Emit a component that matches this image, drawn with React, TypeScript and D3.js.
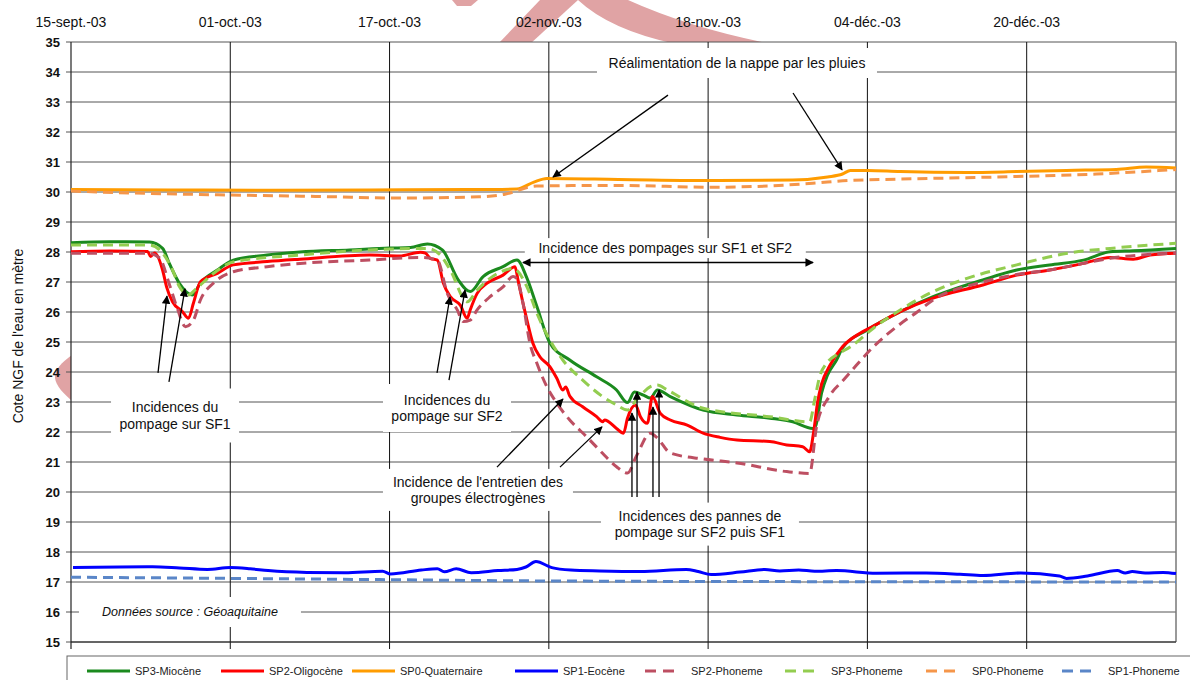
import React from "react";
import * as d3 from "d3";

// ---- frame ----
const W = 1190;
const H = 680;
const M = { left: 71, right: 1176, top: 42, bottom: 642 };
const FONT = "'Liberation Sans', Arial, Helvetica, sans-serif";

const DAY_MS = 864e5;
const START_MS = Date.UTC(2003, 8, 15);
const END_MS = Date.UTC(2004, 0, 4);

// ---- axes ----
const dateTickDays = [0, 16, 32, 48, 64, 80, 96];
const dateTickLabels = ["15-sept.-03", "01-oct.-03", "17-oct.-03", "02-nov.-03", "18-nov.-03", "04-déc.-03", "20-déc.-03"];
const levelTicks = d3.range(15, 36);

// ---- series: [days since 15 Sept 2003, water level (m NGF)] ----
type Pt = [number, number];

const sp3Miocene: Pt[] = [
  [0, 28.31], [3.9, 28.34], [7.9, 28.33], [9.2, 28.12], [9.9, 27.6], [10.9, 26.95], [12.2, 26.57],
  [13.0, 26.97], [14.7, 27.4], [16.3, 27.73], [19.7, 27.9], [23.0, 28.0], [28.0, 28.07], [32.0, 28.13],
  [34.1, 28.15], [35.8, 28.27], [37.3, 28.07], [38.9, 27.07], [40.1, 26.68], [41.4, 27.18], [43.4, 27.51],
  [44.8, 27.73], [45.8, 27.13], [46.8, 26.18], [48.1, 24.97], [50.1, 24.4], [52.8, 23.84], [54.8, 23.4],
  [55.9, 22.98], [56.6, 23.33], [57.5, 23.23], [58.2, 23.13], [58.9, 23.4], [60.2, 23.18], [63.5, 22.73],
  [66.9, 22.57], [70.2, 22.46], [72.5, 22.34], [74.5, 22.12], [74.8, 22.2], [75.4, 23.3], [76.0, 23.9],
  [76.9, 24.4], [77.5, 24.8], [80.0, 25.4], [83.3, 26.01], [86.6, 26.51], [91.6, 27.07], [95.0, 27.4],
  [98.3, 27.57], [101.7, 27.73], [104.4, 28.01], [106.7, 28.04], [111, 28.12],
];

const sp2Oligocene: Pt[] = [
  [0, 28.01], [3.9, 28.03], [7.7, 28.02], [8.0, 27.85], [8.4, 27.97], [9.2, 27.4], [9.6, 26.84],
  [10.2, 26.34], [11.2, 26.01], [11.8, 25.79], [12.3, 26.3], [13.0, 27.01], [14.7, 27.29], [16.3, 27.57],
  [19.7, 27.68], [23.0, 27.76], [30.0, 27.9], [33.0, 27.87], [35.1, 27.99], [35.6, 27.96], [36.1, 27.79],
  [36.8, 27.73], [37.4, 26.97], [38.1, 26.51], [39.1, 26.23], [39.8, 25.79], [40.1, 26.07], [40.8, 26.62],
  [41.8, 26.96], [43.4, 27.23], [44.6, 27.51], [44.9, 27.07], [45.4, 26.3], [45.8, 25.73], [46.4, 24.96],
  [47.1, 24.51], [48.1, 24.18], [48.8, 23.79], [49.4, 23.4], [49.7, 23.5], [50.1, 23.2], [51.4, 22.84],
  [52.8, 22.51], [53.4, 22.34], [53.6, 22.4], [54.8, 22.12], [55.5, 21.96], [55.9, 22.46], [56.7, 22.9],
  [57.2, 22.51], [57.9, 22.29], [58.4, 23.18], [59.2, 22.62], [60.2, 22.4], [61.9, 22.23], [63.5, 21.96],
  [65.2, 21.82], [66.9, 21.73], [70.2, 21.68], [71.9, 21.57], [73.5, 21.51], [74.2, 21.34], [74.6, 22.0],
  [75.0, 23.0], [75.4, 23.6], [76.2, 24.2], [77.5, 24.84], [79.3, 25.3], [80.6, 25.53], [83.3, 26.01],
  [86.6, 26.46], [91.6, 26.9], [95.0, 27.23], [98.3, 27.4], [101.7, 27.62], [104.4, 27.82], [106.7, 27.76],
  [108.4, 27.9], [111, 27.96],
];

const sp0Quaternaire: Pt[] = [
  [0, 30.08], [10, 30.07], [20, 30.06], [30, 30.07], [40, 30.08], [44.8, 30.1], [46.5, 30.33], [47.8, 30.45],
  [55, 30.42], [65, 30.38], [72.5, 30.4], [76, 30.5], [77.5, 30.6], [78.3, 30.72], [80, 30.72], [83.3, 30.68],
  [90, 30.65], [95, 30.68], [100, 30.72], [105, 30.75], [108, 30.83], [111, 30.8],
];

const sp1Eocene: Pt[] = [
  [0.2, 17.48], [4.9, 17.5], [8.2, 17.51], [10.9, 17.47], [13.7, 17.42], [16.0, 17.48], [18.0, 17.44],
  [19.8, 17.38], [23.7, 17.32], [27.5, 17.31], [31.3, 17.36], [32.1, 17.27], [35.2, 17.4], [36.8, 17.44],
  [37.5, 17.34], [38.7, 17.44], [40.2, 17.31], [42.9, 17.38], [44.8, 17.42], [45.7, 17.5], [46.7, 17.68],
  [48.3, 17.48], [50.2, 17.4], [53.1, 17.37], [57.2, 17.35], [61.8, 17.42], [63.0, 17.35], [64.3, 17.25],
  [67.2, 17.33], [69.7, 17.42], [71.2, 17.37], [73.1, 17.4], [74.7, 17.36], [76.9, 17.38], [80.9, 17.29],
  [85.9, 17.3], [89.3, 17.26], [91.6, 17.22], [95.4, 17.3], [99.3, 17.2], [100.0, 17.12], [102.1, 17.2],
  [105.1, 17.38], [105.9, 17.3], [106.6, 17.35], [107.9, 17.3], [109.7, 17.32], [111, 17.28],
];

const sp2Phoneme: Pt[] = [
  [0, 27.96], [7.7, 27.96], [8.9, 27.8], [9.9, 26.9], [10.7, 26.1], [11.5, 25.51], [12.3, 25.73],
  [13.0, 26.4], [14.3, 26.96], [16.3, 27.34], [19.7, 27.51], [23.0, 27.62], [30.0, 27.73], [35.1, 27.82],
  [36.8, 27.73], [37.8, 26.62], [38.8, 26.07], [39.4, 25.68], [40.1, 25.73], [40.8, 26.07], [42.1, 26.51],
  [43.4, 26.84], [44.4, 27.18], [44.8, 27.1], [45.4, 26.3], [46.1, 24.96], [46.8, 24.29], [47.8, 23.51],
  [48.8, 22.96], [50.1, 22.4], [51.8, 21.84], [53.4, 21.29], [54.8, 20.84], [55.9, 20.63], [56.8, 21.2],
  [58.2, 21.96], [58.9, 21.8], [60.2, 21.3], [63.5, 21.1], [66.9, 20.97], [71.9, 20.68], [74.2, 20.62],
  [74.9, 22.2], [76.2, 23.2], [77.5, 23.7], [78.3, 24.0], [80.6, 24.84], [83.3, 25.6], [85.0, 26.0],
  [86.6, 26.4], [91.6, 27.0], [95.0, 27.25], [98.3, 27.4], [101.7, 27.62], [104.4, 27.79], [111, 27.96],
];

const sp3Phoneme: Pt[] = [
  [0, 28.23], [7.9, 28.23], [8.9, 28.07], [10.2, 27.4], [10.9, 26.84], [11.8, 26.57], [12.5, 26.75],
  [14.0, 27.2], [16.3, 27.67], [23.0, 27.9], [30.0, 28.07], [35.8, 28.12], [37.1, 27.9], [38.1, 27.4],
  [39.8, 26.34], [40.8, 26.73], [43.1, 27.33], [44.4, 27.45], [45.8, 26.84], [46.8, 25.96], [48.1, 25.07],
  [49.4, 24.4], [51.4, 23.73], [53.4, 23.18], [54.8, 22.9], [55.9, 22.73], [56.8, 23.07], [58.2, 23.51],
  [58.9, 23.57], [59.9, 23.4], [63.5, 22.79], [70.2, 22.51], [74.2, 22.34], [74.7, 23.07], [75.2, 23.84],
  [75.9, 24.29], [76.9, 24.57], [78.3, 24.84], [80.6, 25.46], [83.3, 26.07], [86.6, 26.68], [90.0, 27.12],
  [95.0, 27.57], [100.1, 27.96], [104.4, 28.12], [111, 28.29],
];

const sp0Phoneme: Pt[] = [
  [0, 30.03], [8, 29.95], [16, 29.9], [25, 29.85], [33, 29.8], [41, 29.84], [43.5, 29.92], [46.8, 30.2],
  [55, 30.22], [64.5, 30.16], [70, 30.2], [74.5, 30.29], [78, 30.38], [83.3, 30.43], [93, 30.5],
  [103, 30.6], [111, 30.75],
];

const sp1Phoneme: Pt[] = [
  [0, 17.16], [16, 17.12], [31, 17.08], [45, 17.04], [60, 17.02], [80, 17.01], [111, 17.0],
];

type Series = { name: string; data: Pt[]; color: string; dashed: boolean };

const series: Series[] = [
  { name: "SP3-Miocène", data: sp3Miocene, color: "#1b8a1e", dashed: false },
  { name: "SP2-Oligocène", data: sp2Oligocene, color: "#ff0000", dashed: false },
  { name: "SP0-Quaternaire", data: sp0Quaternaire, color: "#ff9c00", dashed: false },
  { name: "SP1-Eocène", data: sp1Eocene, color: "#0000ff", dashed: false },
  { name: "SP2-Phoneme", data: sp2Phoneme, color: "#bd4f62", dashed: true },
  { name: "SP3-Phoneme", data: sp3Phoneme, color: "#93cd50", dashed: true },
  { name: "SP0-Phoneme", data: sp0Phoneme, color: "#f5964a", dashed: true },
  { name: "SP1-Phoneme", data: sp1Phoneme, color: "#5a86c8", dashed: true },
];

// legend layout: sample start x for each entry
const legendX = [87, 221, 352, 515, 645, 785, 926, 1062];

// ---- annotations, anchored in data space ([day, level]) ----
type Note = { at: Pt; w: number; h: number; lines: string[]; italic?: boolean };
const notes: Note[] = [
  { at: [66.9, 34.3], w: 280, h: 30, lines: ["Réalimentation  de la nappe par les pluies"] },
  { at: [59.7, 28.13], w: 281, h: 20, lines: ["Incidence des pompages sur SF1 et SF2"] },
  { at: [10.45, 22.55], w: 128, h: 54, lines: ["Incidences du", "pompage sur SF1"] },
  { at: [37.77, 22.8], w: 128, h: 48, lines: ["Incidences du", "pompage sur SF2"] },
  { at: [40.88, 20.07], w: 190, h: 42, lines: ["Incidence de l'entretien des", "groupes électrogènes"] },
  { at: [63.18, 18.93], w: 198, h: 43, lines: ["Incidences des pannes de", "pompage sur SF2 puis SF1"] },
  { at: [11.95, 16.0], w: 222, h: 30, lines: ["Données source : Géoaquitaine"], italic: true },
];

type Arrow = { from: Pt; to: Pt; both?: boolean };
const arrows: Arrow[] = [
  { from: [59.97, 33.23], to: [48.42, 30.5] },
  { from: [72.53, 33.3], to: [77.45, 30.74] },
  { from: [45.4, 27.65], to: [74.54, 27.65], both: true },
  { from: [8.74, 23.97], to: [9.64, 26.53] },
  { from: [9.84, 23.67], to: [11.45, 26.77] },
  { from: [36.77, 23.97], to: [38.07, 26.5] },
  { from: [37.97, 23.73], to: [39.58, 26.73] },
  { from: [42.79, 20.83], to: [49.42, 23.1] },
  { from: [49.12, 20.83], to: [53.34, 22.17] },
  { from: [56.35, 19.83], to: [56.35, 22.63] },
  { from: [56.86, 19.83], to: [56.86, 23.33] },
  { from: [58.46, 19.83], to: [58.46, 22.83] },
  { from: [59.07, 19.83], to: [59.07, 23.4] },
];

const dayToDate = (d: number) => new Date(START_MS + d * DAY_MS);

export default function App() {
  const x = d3.scaleUtc().domain([new Date(START_MS), new Date(END_MS)]).range([M.left, M.right]);
  const y = d3.scaleLinear().domain([15, 35]).range([M.bottom, M.top]);
  const px = (p: Pt): [number, number] => [x(dayToDate(p[0])), y(p[1])];
  const line = d3
    .line<Pt>()
    .x((p) => x(dayToDate(p[0])))
    .y((p) => y(p[1]))
    .curve(d3.curveMonotoneX);

  const gridDays = dateTickDays.slice(1);
  const legendY = 671;

  return (
    <svg
      width={W}
      height={H}
      viewBox={`0 0 ${W} ${H}`}
      style={{ position: "absolute", left: 0, top: 0, display: "block" }}
      fontFamily={FONT}
    >
      <defs>
        <marker id="ah" viewBox="0 0 10 10" refX="9" refY="5" markerWidth="7" markerHeight="6.5" orient="auto-start-reverse">
          <path d="M0,0 L10,5 L0,10 z" fill="#000" />
        </marker>
      </defs>
      <rect x={0} y={0} width={W} height={H} fill="#fff" />

      {/* background logo (only visible around the plot frame) */}
      <g fill="#e0a3a4">
        <path d="M452,0 L478,0 L471,6 L457,6 Z" />
        <path d="M498,44 L530,44 L578,0 L540,0 Z" />
        <path d="M578,0 L628,0 Q690,28 772,44 L676,44 Q610,30 578,0 Z" />
        <path d="M72,355 C62,362 54,370 55,378 C56,386 64,394 72,401 Z" />
      </g>

      {/* plot area */}
      <rect x={M.left} y={M.top} width={M.right - M.left} height={M.bottom - M.top} fill="#fff" />

      {/* horizontal grid */}
      {levelTicks.map((v) => (
        <line key={`h${v}`} x1={M.left - 5} x2={M.right} y1={y(v)} y2={y(v)} stroke="#555" strokeWidth={1} />
      ))}
      {/* vertical grid */}
      {gridDays.map((d) => (
        <line key={`v${d}`} x1={x(dayToDate(d))} x2={x(dayToDate(d))} y1={M.top} y2={M.bottom + 7} stroke="#111" strokeWidth={1} />
      ))}
      <line x1={M.right} x2={M.right} y1={M.top} y2={M.bottom} stroke="#777" strokeWidth={1.5} />
      <line x1={M.left} x2={M.left} y1={M.top} y2={M.bottom + 7} stroke="#222" strokeWidth={1.2} />
      <line x1={M.left} x2={M.right} y1={M.bottom} y2={M.bottom} stroke="#222" strokeWidth={1.2} />

      {/* annotation boxes */}
      {notes.map((n, i) => {
        const [cx, cy] = px(n.at);
        return <rect key={`nb${i}`} x={cx - n.w / 2} y={cy - n.h / 2} width={n.w} height={n.h} fill="#fff" />;
      })}

      {/* series */}
      {series.map((s) => (
        <path
          key={s.name}
          d={line(s.data) || ""}
          fill="none"
          stroke={s.color}
          strokeWidth={3}
          strokeLinejoin="round"
          strokeDasharray={s.dashed ? "10 6" : undefined}
        />
      ))}

      {/* annotation text */}
      {notes.map((n, i) => {
        const [cx, cy] = px(n.at);
        const lh = 16.5;
        const y0 = cy - ((n.lines.length - 1) * lh) / 2;
        return (
          <text
            key={`nt${i}`}
            textAnchor="middle"
            fontSize={n.italic ? 12.5 : 14}
            fontStyle={n.italic ? "italic" : "normal"}
            fill="#111"
          >
            {n.lines.map((t, j) => (
              <tspan key={j} x={cx} y={y0 + j * lh} dominantBaseline="central">
                {t}
              </tspan>
            ))}
          </text>
        );
      })}

      {/* arrows */}
      {arrows.map((a, i) => {
        const [x1, y1] = px(a.from);
        const [x2, y2] = px(a.to);
        return (
          <line
            key={`a${i}`}
            x1={x1}
            y1={y1}
            x2={x2}
            y2={y2}
            stroke="#000"
            strokeWidth={1.3}
            markerEnd="url(#ah)"
            markerStart={a.both ? "url(#ah)" : undefined}
          />
        );
      })}

      {/* y axis labels */}
      {levelTicks.map((v) => (
        <text key={`yl${v}`} x={60} y={y(v)} textAnchor="end" dominantBaseline="central" fontSize={13} fontWeight="bold" fill="#111">
          {v}
        </text>
      ))}
      <text
        transform={`translate(18,${(M.top + M.bottom) / 2 - 6}) rotate(-90)`}
        textAnchor="middle"
        dominantBaseline="central"
        fontSize={14}
        fill="#111"
      >
        Cote NGF de l'eau en mètre
      </text>

      {/* date labels (top) */}
      {dateTickDays.map((d, i) => (
        <text key={`xl${d}`} x={x(dayToDate(d))} y={22} textAnchor="middle" dominantBaseline="central" fontSize={14} fill="#111">
          {dateTickLabels[i]}
        </text>
      ))}

      {/* legend */}
      <rect x={67} y={656} width={W} height={40} fill="#fff" stroke="#666" strokeWidth={1} />
      {series.map((s, i) => {
        const x0 = legendX[i];
        const len = s.dashed ? 30 : 43;
        return (
          <g key={`lg${s.name}`}>
            <line
              x1={x0}
              x2={x0 + len}
              y1={legendY}
              y2={legendY}
              stroke={s.color}
              strokeWidth={3}
              strokeDasharray={s.dashed ? "11 7" : undefined}
            />
            <text x={x0 + len + (s.dashed ? 16 : 5)} y={legendY} dominantBaseline="central" fontSize={11} fill="#222">
              {s.name}
            </text>
          </g>
        );
      })}
    </svg>
  );
}
